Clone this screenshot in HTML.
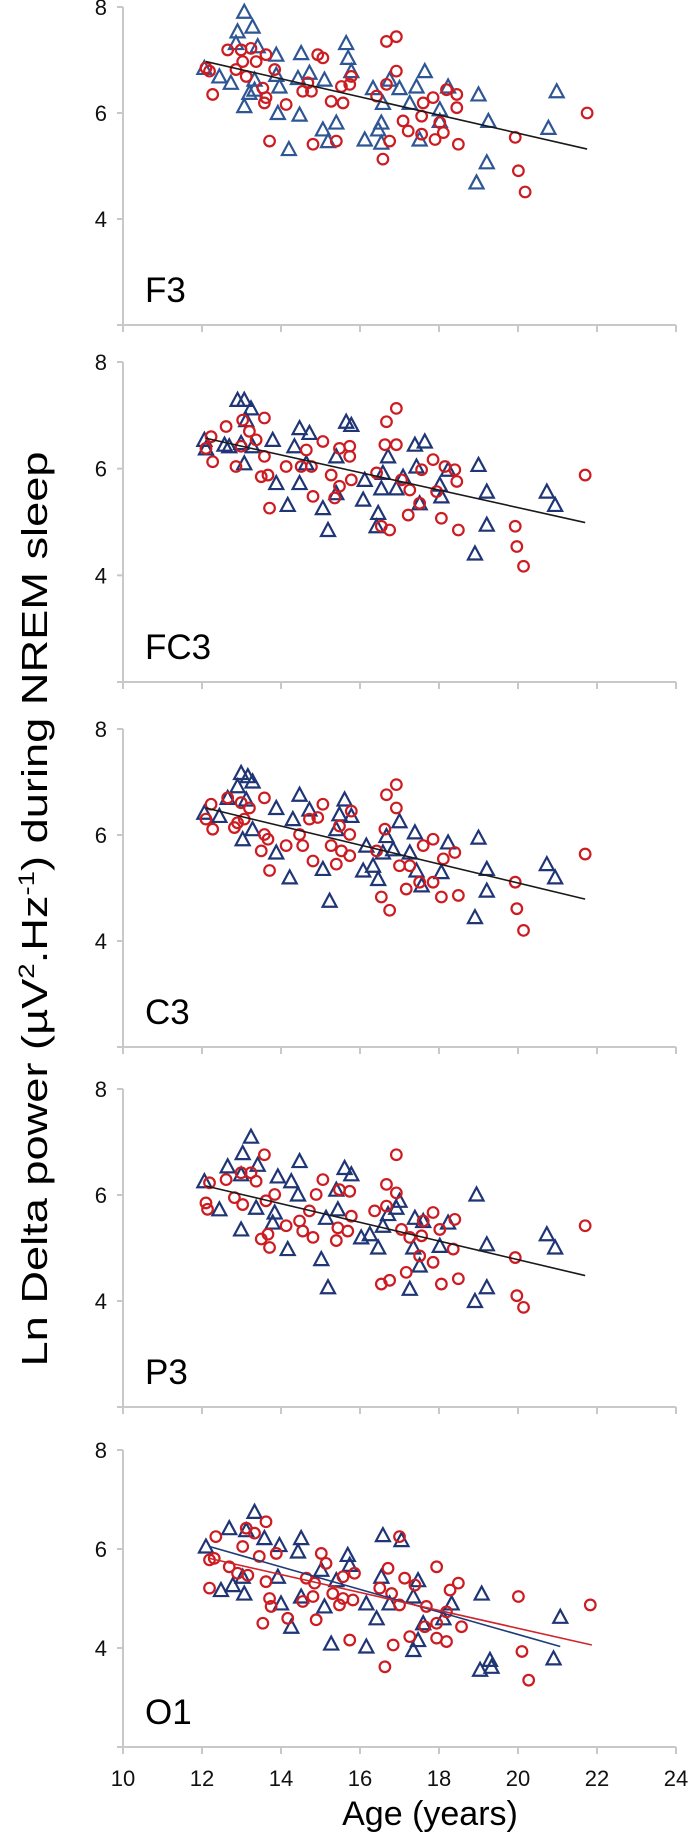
<!DOCTYPE html>
<html><head><meta charset="utf-8"><style>
html,body{margin:0;padding:0;background:#fff;}
svg{display:block;font-family:"Liberation Sans",sans-serif;}
</style></head><body>
<svg id="chart" width="688" height="1833" viewBox="0 0 688 1833" xmlns="http://www.w3.org/2000/svg">
<text transform="translate(47,909) rotate(-90)" text-anchor="middle" font-size="36" textLength="915" lengthAdjust="spacingAndGlyphs" fill="#000">Ln Delta power (µV<tspan font-size="22" dy="-13">2</tspan><tspan dy="13">.Hz</tspan><tspan font-size="22" dy="-13">-1</tspan><tspan dy="13">) during NREM sleep</tspan></text>
<text x="430" y="1825" text-anchor="middle" font-size="34" fill="#000">Age (years)</text>
</svg>
<script>
const panelNames = ["F3","FC3","C3","P3","O1"];
const xTicks = [10,12,14,16,18,20,22,24];
const yTicks = [2,4,6,8];

// F3
const f3TriX = [12.06,12.44,12.73,12.9,13.07,13.28,12.86,13.41,13.07,13.2,13.33,13.88,13.92,14.47,14.51,13.96,14.43,14.72,15.1,14.2,15.06,15.4,15.19,15.65,15.7,15.78,16.12,16.33,16.54,16.46,16.54,16.75,17.0,17.26,17.43,17.64,17.51,18.02,18.23,18.02,19.0,19.25,19.21,18.95,20.77,20.98,16.58,13.33,13.88];
const f3TriY = [6.85,6.69,6.57,7.54,7.91,7.63,7.32,7.26,6.13,6.38,6.63,7.1,6.0,5.97,7.13,6.5,6.66,6.76,6.63,5.32,5.69,5.82,5.47,7.32,7.04,6.79,5.5,6.47,5.82,5.69,5.44,6.63,6.47,6.19,6.5,6.79,5.5,5.85,6.5,6.07,6.35,5.85,5.07,4.69,5.72,6.41,6.19,6.44,6.72];
const f3CirX = [12.10,12.27,12.19,12.65,12.99,13.24,13.03,13.37,13.62,13.84,13.12,12.86,13.54,13.62,13.58,14.13,13.71,14.93,15.06,14.55,14.77,14.68,14.81,15.27,15.53,15.74,15.78,15.57,15.40,16.67,16.92,16.92,16.67,16.42,16.75,16.58,17.09,17.22,17.60,17.85,17.56,17.56,17.90,18.02,18.11,18.19,18.45,18.45,18.49,19.93,20.01,20.18,21.75];
const f3CirY = [6.85,6.35,6.79,7.19,7.19,7.22,6.97,6.97,7.10,6.82,6.69,6.82,6.47,6.29,6.19,6.16,5.47,7.10,7.04,6.41,6.41,6.57,5.41,6.22,6.50,6.54,6.69,6.19,5.47,7.35,7.44,6.79,6.54,6.32,5.47,5.13,5.85,5.66,6.19,6.29,5.94,5.60,5.50,5.82,5.63,6.44,6.35,6.10,5.41,5.54,4.91,4.51,6.00];
const f3Fit = [[12.1,6.97],[21.75,5.32]];

// FC3
const fc3TriX = [12.06,12.10,12.90,13.07,13.24,13.12,12.57,12.69,12.99,13.28,13.79,13.07,14.47,14.72,14.34,13.88,14.47,14.17,15.06,15.19,14.64,15.40,15.65,15.78,15.40,16.08,16.12,16.46,16.42,16.54,16.71,16.92,17.39,17.64,17.43,17.51,18.02,18.06,18.23,19.0,19.21,19.21,18.91,20.73,20.94,17.09,16.58];
const fc3TriY = [6.54,6.38,7.29,7.29,7.13,6.91,6.45,6.42,6.48,6.42,6.54,6.10,6.76,6.67,6.42,5.73,5.73,5.32,5.26,4.85,6.10,5.54,6.88,6.82,6.23,5.42,5.79,5.17,4.92,5.63,6.23,5.63,6.45,6.51,6.04,5.35,5.70,5.48,5.98,6.07,5.57,4.95,4.41,5.57,5.32,5.85,5.92];
const fc3CirX = [12.10,12.27,12.23,12.61,13.03,13.2,13.37,13.58,12.99,12.86,13.58,13.50,13.67,13.71,14.13,14.51,14.77,14.64,15.06,14.81,15.27,15.48,15.74,15.74,15.78,15.48,15.36,16.67,16.92,16.63,16.92,16.42,17.05,17.26,16.54,16.75,17.22,17.51,17.56,17.85,18.15,18.40,18.45,17.94,18.06,18.49,19.93,19.97,20.14,21.70];
const fc3CirY = [6.38,6.13,6.60,6.79,6.91,6.70,6.54,6.95,6.42,6.04,6.23,5.85,5.88,5.26,6.04,6.04,6.04,6.35,6.51,5.48,5.88,6.38,6.42,6.23,5.79,5.67,5.45,6.88,7.13,6.45,6.45,5.92,5.79,5.60,4.92,4.85,5.13,5.35,5.98,6.17,6.04,5.98,5.76,5.57,5.07,4.85,4.92,4.54,4.17,5.88];
const fc3Fit = [[12.1,6.57],[21.7,4.99]];

// C3
const c3TriX = [12.06,12.99,13.16,13.28,12.9,12.65,13.12,12.44,13.88,13.03,13.28,14.47,14.3,14.72,13.88,14.22,15.06,15.23,15.61,15.48,15.78,15.40,16.16,16.08,16.33,16.46,16.58,17.0,16.84,17.39,17.26,17.43,17.56,18.06,18.23,19.0,19.21,19.21,18.91,20.73,20.94,16.67];
const c3TriY = [6.42,7.17,7.11,7.01,6.92,6.70,6.67,6.36,6.51,5.92,6.11,6.76,6.30,6.48,5.67,5.20,5.36,4.76,6.67,6.39,6.36,6.11,5.80,5.33,5.42,5.17,5.67,6.26,5.73,6.05,5.67,5.33,5.05,5.30,5.86,5.95,5.36,4.95,4.45,5.45,5.20,5.98];
const c3CirX = [12.23,12.1,12.27,12.65,12.99,13.2,13.58,12.9,13.07,12.82,13.58,13.67,13.5,13.71,14.13,14.55,14.47,14.72,14.93,15.06,14.81,15.27,15.40,15.53,15.74,15.78,15.74,15.48,16.67,16.92,16.92,16.63,16.42,17.0,17.26,17.17,16.54,16.75,17.51,17.85,17.85,17.6,18.11,18.4,18.06,18.49,19.93,19.97,20.14,21.7];
const c3CirY = [6.58,6.30,6.11,6.70,6.61,6.51,6.70,6.23,6.30,6.14,6.01,5.92,5.70,5.33,5.80,5.80,6.01,6.30,6.33,6.58,5.51,5.80,5.45,5.70,5.61,6.45,6.01,6.17,6.76,6.95,6.51,6.11,5.70,5.42,5.42,4.98,4.83,4.58,5.11,5.11,5.92,5.80,5.55,5.67,4.83,4.86,5.11,4.61,4.20,5.64];
const c3Fit = [[12.1,6.51],[21.7,4.79]];

// P3
const p3TriX = [12.06,13.24,13.03,12.65,13.41,12.99,12.44,12.99,13.37,13.92,14.26,14.47,14.43,13.84,13.79,14.17,15.02,15.19,15.61,15.78,15.4,15.44,15.14,16.03,16.25,16.46,16.71,16.92,17.0,17.39,17.6,17.35,17.51,17.26,18.02,18.23,18.95,19.21,19.21,20.73,20.94,16.58,18.91];
const p3TriY = [6.26,7.10,6.79,6.54,6.57,6.39,5.73,5.35,5.76,6.35,6.26,6.64,6.01,5.67,5.48,4.98,4.79,4.26,6.51,6.39,6.10,5.73,5.57,5.20,5.26,5.01,5.64,5.76,5.89,5.57,5.51,5.01,4.67,4.23,5.04,5.48,6.01,5.07,4.26,5.26,5.01,5.42,4.0];
const p3CirX = [12.19,12.1,12.14,12.61,12.99,13.24,13.58,13.37,12.82,13.03,13.62,13.84,13.5,13.67,13.71,14.13,14.47,14.55,14.81,14.72,14.89,15.06,15.48,15.74,15.78,15.4,15.69,15.44,16.92,16.67,16.92,16.67,16.37,17.05,17.26,17.56,17.51,17.85,17.17,16.54,16.75,18.06,18.49,17.85,17.6,18.02,18.4,18.36,19.93,21.7,19.97,20.14];
const p3CirY = [6.23,5.85,5.73,6.29,6.42,6.42,6.76,6.26,5.95,5.82,5.89,6.01,5.17,5.26,5.01,5.42,5.51,5.32,5.20,5.70,6.01,6.29,6.10,6.07,5.60,5.14,5.32,5.38,6.76,6.20,6.04,5.79,5.70,5.35,5.20,5.23,4.85,4.73,4.54,4.32,4.39,4.32,4.42,5.67,5.51,5.35,5.54,4.98,4.82,5.42,4.10,3.88];
const p3Fit = [[12.1,6.17],[21.7,4.48]];

// O1
const o1TriX = [12.1,12.69,13.33,13.12,13.58,13.96,14.51,14.43,15.69,15.74,16.58,17.05,12.48,12.78,13.07,13.03,13.92,14.0,14.26,14.51,15.1,15.27,16.16,16.54,16.42,16.16,16.75,17.47,17.35,17.6,17.47,17.35,18.32,18.11,19.08,19.04,19.29,19.33,20.9,21.07,15.02,15.4];
const o1TriY = [6.05,6.42,6.75,6.38,6.22,6.08,6.22,5.95,5.88,5.68,6.28,6.18,5.17,5.27,5.10,5.44,5.44,4.90,4.43,5.04,4.84,4.09,4.03,5.44,4.60,4.90,4.90,5.37,5.04,4.50,4.16,3.96,4.90,4.60,5.10,3.56,3.76,3.62,3.79,4.63,5.58,5.37];
const o1CirX = [12.35,12.19,12.31,12.19,12.69,13.12,13.33,13.62,13.03,13.45,12.9,13.16,13.88,13.62,13.71,13.75,13.54,14.17,14.89,15.02,15.14,14.64,14.85,14.55,14.81,15.31,15.57,15.48,15.82,15.57,15.86,15.74,16.71,17.0,16.5,16.8,17.0,17.13,17.39,16.84,16.63,17.26,17.94,18.49,18.28,17.68,17.64,17.94,18.19,18.57,17.94,18.19,20.01,20.1,20.27,21.83];
const o1CirY = [6.25,5.78,5.81,5.21,5.64,6.42,6.32,6.55,6.05,5.85,5.51,5.47,5.91,5.34,5.00,4.84,4.50,4.60,4.57,5.91,5.71,5.41,5.31,4.94,5.04,5.10,5.00,4.87,4.97,5.44,5.51,4.16,5.61,6.25,5.21,5.10,4.87,5.41,5.27,4.06,3.62,4.23,5.64,5.31,5.17,4.84,4.43,4.50,4.73,4.43,4.20,4.13,5.04,3.93,3.35,4.87];
const o1FitBlue = [[12.19,6.05],[21.07,4.03]];
const o1FitRed = [[12.19,5.81],[21.87,4.06]];

const NS = "http://www.w3.org/2000/svg";
const svg = document.getElementById("chart");
const X0 = 123, X1 = 676;
const frames = [[7,325],[362,682],[729,1047],[1089,1407],[1450,1747]];
function xScale(v){ return X0 + (v-10)/(24-10)*(X1-X0); }
function yScaleFor(i){ const f=frames[i]; return v => f[1] - (v-2)/(8-2)*(f[1]-f[0]); }
function mk(tag, attrs){ const e=document.createElementNS(NS,tag); for(const k in attrs) e.setAttribute(k,attrs[k]); return e; }

const tri = [[f3TriX,f3TriY],[fc3TriX,fc3TriY],[c3TriX,c3TriY],[p3TriX,p3TriY],[o1TriX,o1TriY]];
const cir = [[f3CirX,f3CirY],[fc3CirX,fc3CirY],[c3CirX,c3CirY],[p3CirX,p3CirY],[o1CirX,o1CirY]];
const fits = [[[f3Fit,"#1a1a1a"]],[[fc3Fit,"#1a1a1a"]],[[c3Fit,"#1a1a1a"]],[[p3Fit,"#1a1a1a"]],[[o1FitBlue,"#1f3b7a"],[o1FitRed,"#d0252b"]]];

for(let i=0;i<5;i++){
  const f=frames[i]; const ys=yScaleFor(i);
  const g=mk("g",{});
  
  
  svg.appendChild(g);
  const ya=mk("line",{x1:X0,y1:f[0],x2:X0,y2:f[1],stroke:"#c8c8c8","stroke-width":2});
  
  
  g.appendChild(ya);
  const xa=mk("line",{x1:X0-6,y1:f[1],x2:X1,y2:f[1],stroke:"#c8c8c8","stroke-width":2});
  
  
  g.appendChild(xa);
  yTicks.forEach(t=>{
    const y=ys(t);
    const tk=mk("line",{x1:X0-6,y1:y,x2:X0,y2:y,stroke:"#c8c8c8","stroke-width":2});
    
    
    g.appendChild(tk);
    if(t>2){
      const lb=mk("text",{x:107,y:y+8,"text-anchor":"end","font-size":22,fill:"#111"});
      lb.textContent=t;
      
      
      g.appendChild(lb);
    }
  });
  xTicks.forEach(t=>{
    const x=xScale(t);
    const tk=mk("line",{x1:x,y1:f[1],x2:x,y2:f[1]+7,stroke:"#c8c8c8","stroke-width":2});
    
    
    g.appendChild(tk);
    if(i===4){
      const lb=mk("text",{x:x,y:f[1]+39,"text-anchor":"middle","font-size":22,fill:"#111"});
      lb.textContent=t;
      
      
      g.appendChild(lb);
    }
  });
  const pl=mk("text",{x:145,y:f[1]-23,"font-size":35,fill:"#000"});
  pl.textContent=panelNames[i];
  
  
  g.appendChild(pl);
  const triCol = i===0 ? "#2f5694" : "#1f3575";
  const [tx,ty]=tri[i];
  for(let k=0;k<tx.length;k++){
    const cx=xScale(tx[k]), cy=ys(ty[k]);
    const p=mk("path",{d:`M${cx-7},${cy+6} L${cx+7},${cy+6} L${cx},${cy-7} Z`,fill:"none",stroke:triCol,"stroke-width":2.2,"stroke-linejoin":"miter"});
    
    
    g.appendChild(p);
  }
  const [cxs,cys]=cir[i];
  for(let k=0;k<cxs.length;k++){
    const c=mk("circle",{cx:xScale(cxs[k]),cy:ys(cys[k]),r:5.3,fill:"none",stroke:"#cc1c22","stroke-width":2.2});
    
    
    g.appendChild(c);
  }
  fits[i].forEach(([pts,col])=>{
    const l=mk("line",{x1:xScale(pts[0][0]),y1:ys(pts[0][1]),x2:xScale(pts[1][0]),y2:ys(pts[1][1]),stroke:col,"stroke-width":1.6});
    
    
    g.appendChild(l);
  });
}
</script>
</body></html>
